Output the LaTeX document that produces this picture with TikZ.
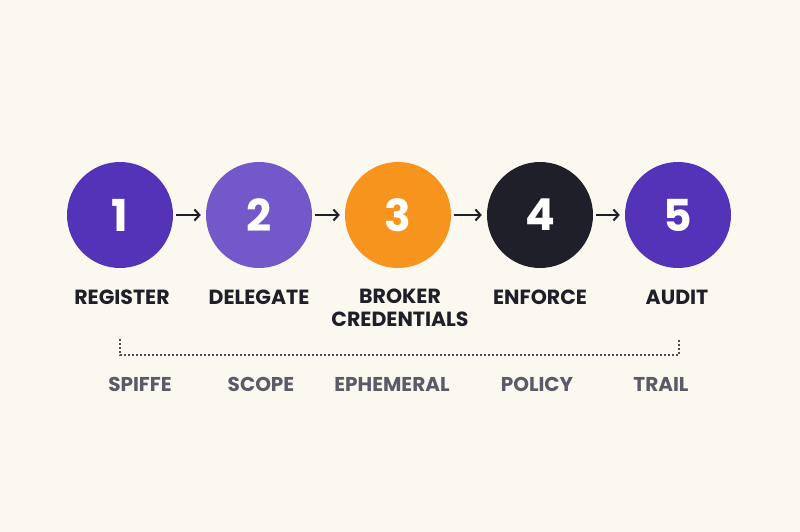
\documentclass[tikz,border=0pt]{standalone}
\usepackage{fontspec}
\setmainfont{Poppins}
\usetikzlibrary{positioning}
\usetikzlibrary{arrows.meta}
\definecolor{bgcream}{HTML}{FBF8EF}
\definecolor{deeppurple}{HTML}{5433B8}
\definecolor{softpurple}{HTML}{7358C9}
\definecolor{brokerorange}{HTML}{F7941D}
\definecolor{inkdark}{HTML}{1F1F29}
\definecolor{labelgrey}{HTML}{5B5A68}
\tikzset{
  stepcircle/.style={circle,minimum size=106pt,inner sep=0pt,text=white,font=\bfseries\fontsize{44}{44}\selectfont},
  steplabel/.style={align=center,text=inkdark,font=\bfseries\fontsize{20.5}{23}\selectfont},
  sublabel/.style={text=labelgrey,font=\bfseries\fontsize{20}{24}\selectfont},
  flow/.style={color=inkdark,line width=2pt,->,shorten >=5pt,shorten <=3pt},
}
\begin{document}
\begin{tikzpicture}[>={Straight Barb[length=5pt,width=11pt]},x=1pt,y=-1pt]
        \fill[bgcream] (0,0) rectangle (800,532);
        \useasboundingbox (0,0) rectangle (800,532);
        %
        \node (register) at (120,215) [stepcircle,fill=deeppurple] {1};
        \node (delegate) at (259,215) [stepcircle,fill=softpurple] {2};
        \node (broker) at (398,215) [stepcircle,fill=brokerorange] {3};
        \node (enforce) at (540,215) [stepcircle,fill=inkdark] {4};
        \node (audit) at (678,215) [stepcircle,fill=deeppurple] {5};
        %
        \node (registerlabel) at (122,297) [steplabel] {REGISTER};
        \node (delegatelabel) at (259,297) [steplabel] {DELEGATE};
        \node (brokerlabel) at (400,307.5) [steplabel] {BROKER\\CREDENTIALS};
        \node (enforcelabel) at (540,297) [steplabel] {ENFORCE};
        \node (auditlabel) at (677,297) [steplabel] {AUDIT};
        %
        \draw [flow] (register) to (delegate);
        \draw [flow] (delegate) to (broker);
        \draw [flow] (broker) to (enforce);
        \draw [flow] (enforce) to (audit);
        %
        \coordinate (spanleft) at (120,339);
        \coordinate (spanright) at (679,339);
        \draw [color=inkdark!80,dash pattern=on 1.6pt off 2.4pt,line width=1.2pt] (spanleft) -- ++(0,16) -| (spanright);
        %
        \node (spiffe) at (140,384) [sublabel] {SPIFFE};
        \node (scope) at (261,384) [sublabel] {SCOPE};
        \node (ephemeral) at (392,384) [sublabel] {EPHEMERAL};
        \node (policy) at (537,384) [sublabel] {POLICY};
        \node (trail) at (661,384) [sublabel] {TRAIL};
        %
    \end{tikzpicture}
\end{document}
